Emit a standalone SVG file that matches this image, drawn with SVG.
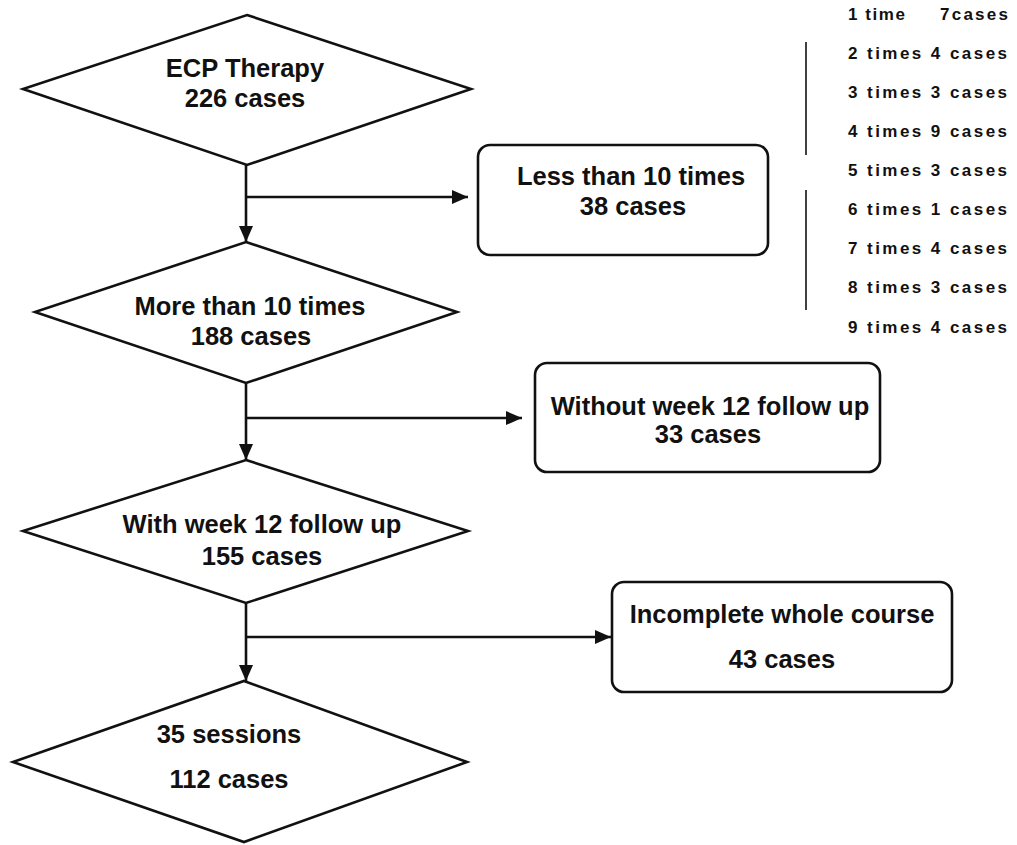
<svg xmlns="http://www.w3.org/2000/svg" width="1017" height="845" viewBox="0 0 1017 845">
<style>
.shape{fill:#fff;stroke:#111;stroke-width:2.6;stroke-linejoin:miter}
.conn{fill:none;stroke:#111;stroke-width:2.6}
.lbl{font-family:"Liberation Sans",Arial,sans-serif;font-weight:bold;font-size:25.5px;fill:#111;text-anchor:middle}
.lst{font-family:"Liberation Sans",Arial,sans-serif;font-weight:bold;font-size:17px;fill:#111}
.bar{stroke:#111;stroke-width:1.6}
</style>
<defs>
<marker id="ah" markerUnits="userSpaceOnUse" markerWidth="16" markerHeight="14" viewBox="0 0 16 14" refX="16" refY="7" orient="auto">
<path d="M0,0 L16,7 L0,14 z" fill="#111"/>
</marker>
</defs>
<rect width="1017" height="845" fill="#fff"/>
<g id="connectors">
<line class="conn" x1="246" y1="165" x2="246" y2="242" marker-end="url(#ah)"/>
<line class="conn" x1="246" y1="383" x2="246" y2="460" marker-end="url(#ah)"/>
<line class="conn" x1="246" y1="603" x2="246" y2="681" marker-end="url(#ah)"/>
<line class="conn" x1="246" y1="197" x2="468" y2="197" marker-end="url(#ah)"/>
<line class="conn" x1="246" y1="418" x2="522" y2="418" marker-end="url(#ah)"/>
<line class="conn" x1="246" y1="637" x2="611" y2="637" marker-end="url(#ah)"/>
</g>
<g id="ecp">
<polygon class="shape" points="247,15 471,89 247,165 23,89"/>
<text class="lbl" x="245" y="77">ECP Therapy</text>
<text class="lbl" x="245" y="107">226 cases</text>
</g>
<g id="more10">
<polygon class="shape" points="246,242 457,312 246,383 35,312"/>
<text class="lbl" x="250" y="315">More than 10 times</text>
<text class="lbl" x="251" y="345">188 cases</text>
</g>
<g id="week12">
<polygon class="shape" points="246,460 468,531 246,603 23,531"/>
<text class="lbl" x="262" y="533">With week 12 follow up</text>
<text class="lbl" x="262" y="565">155 cases</text>
</g>
<g id="sessions35">
<polygon class="shape" points="244,681 467,762 244,842 13,762"/>
<text class="lbl" x="229" y="743">35 sessions</text>
<text class="lbl" x="229" y="788">112 cases</text>
</g>
<g id="less10">
<rect class="shape" x="478" y="145" width="290" height="110" rx="12"/>
<text class="lbl" x="631" y="185">Less than 10 times</text>
<text class="lbl" x="633" y="215">38 cases</text>
</g>
<g id="without12">
<rect class="shape" x="535" y="363" width="345" height="109" rx="12"/>
<text class="lbl" x="710" y="415">Without week 12 follow up</text>
<text class="lbl" x="708" y="443">33 cases</text>
</g>
<g id="incomplete">
<rect class="shape" x="612" y="582" width="340" height="110" rx="12"/>
<text class="lbl" x="782" y="623">Incomplete whole course</text>
<text class="lbl" x="782" y="668">43 cases</text>
</g>
<g id="breakdown">
<line class="bar" x1="806" y1="42" x2="806" y2="155"/>
<line class="bar" x1="806" y1="190" x2="806" y2="310"/>
<text class="lst" x="848" y="20" textLength="57" lengthAdjust="spacing">1 time</text>
<text class="lst" x="940" y="20" textLength="68" lengthAdjust="spacing">7cases</text>
<text class="lst" x="848" y="59" textLength="159" lengthAdjust="spacing">2 times 4 cases</text>
<text class="lst" x="848" y="98" textLength="159" lengthAdjust="spacing">3 times 3 cases</text>
<text class="lst" x="848" y="137" textLength="159" lengthAdjust="spacing">4 times 9 cases</text>
<text class="lst" x="848" y="176" textLength="159" lengthAdjust="spacing">5 times 3 cases</text>
<text class="lst" x="848" y="215" textLength="159" lengthAdjust="spacing">6 times 1 cases</text>
<text class="lst" x="848" y="254" textLength="159" lengthAdjust="spacing">7 times 4 cases</text>
<text class="lst" x="848" y="293" textLength="159" lengthAdjust="spacing">8 times 3 cases</text>
<text class="lst" x="848" y="333" textLength="159" lengthAdjust="spacing">9 times 4 cases</text>
</g>
</svg>
